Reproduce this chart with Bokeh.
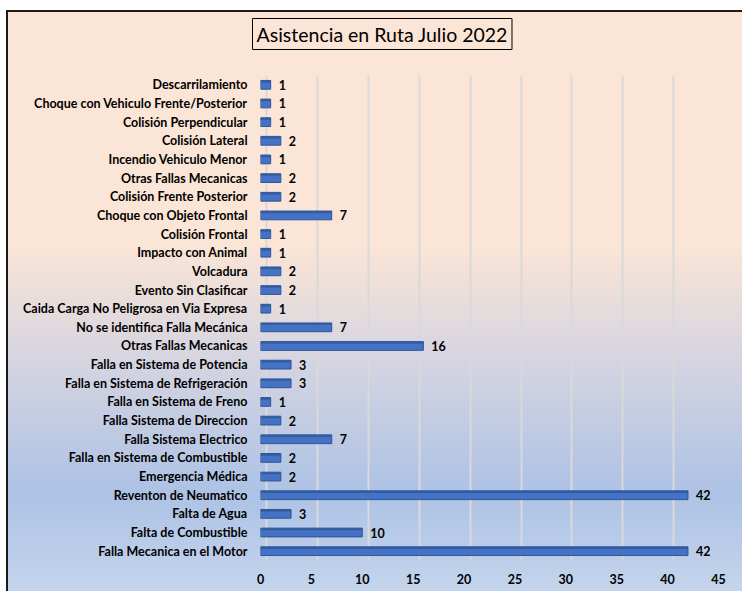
from bokeh.plotting import figure
from bokeh.models import Range1d, FixedTicker, Grid, ColumnDataSource, Title
from bokeh.transform import dodge
from bokeh.core.properties import value
from bokeh.embed import file_html
from bokeh.resources import INLINE

# categories listed bottom -> top
categories = [
    "Falla Mecanica en el Motor",
    "Falta de Combustible",
    "Falta de Agua",
    "Reventon de Neumatico",
    "Emergencia Médica",
    "Falla en Sistema de Combustible",
    "Falla Sistema Electrico",
    "Falla Sistema de Direccion",
    "Falla en Sistema de Freno",
    "Falla en Sistema de Refrigeración",
    "Falla en Sistema de Potencia",
    "Otras Fallas Mecanicas",
    "No se identifica Falla Mecánica",
    "Caida Carga No Peligrosa en Via Expresa",
    "Evento Sin Clasificar",
    "Volcadura",
    "Impacto con Animal",
    "Colisión Frontal",
    "Choque con Objeto Frontal",
    "Colisión Frente Posterior",
    "Otras Fallas Mecanicas",
    "Incendio Vehiculo Menor",
    "Colisión Lateral",
    "Colisión Perpendicular",
    "Choque con Vehiculo Frente/Posterior",
    "Descarrilamiento",
]
counts = [42, 10, 3, 42, 2, 2, 7, 2, 1, 3, 3, 16, 7, 1, 2, 2, 1, 1, 7, 2, 2, 1, 2, 1, 1, 1]
x_ticks = [0, 5, 10, 15, 20, 25, 30, 35, 40, 45]
title_text = "Asistencia en Ruta Julio 2022"

FONT = "Lato"
positions = list(range(len(categories)))
src = ColumnDataSource(dict(y=positions, v=counts, lbl=[str(c) for c in counts]))

p = figure(width=736, height=581, output_backend="svg", toolbar_location=None, title=None,
           x_range=Range1d(0, 45), y_range=Range1d(-0.5, len(categories) - 0.5),
           min_border_left=252, min_border_right=26, min_border_top=63, min_border_bottom=33)

p.styles = {
    "background": "linear-gradient(to bottom, #FBE5D6 0%, #FBE5D6 40%, #D9D6E0 58%, #ADC2E5 83%, #C4D4EC 100%)",
    "border-left": "2px solid #1a1a1a",
    "border-top": "2px solid #1a1a1a",
    "margin-top": "10px",
    "margin-left": "6px",
}
p.border_fill_alpha = 0
p.background_fill_alpha = 0
p.outline_line_color = None

p.xgrid.visible = False
p.ygrid.visible = False
p.extra_x_ranges = {"back": Range1d(-0.6, 44.4)}
g = Grid(dimension=0, ticker=FixedTicker(ticks=x_ticks), x_range_name="back",
         grid_line_color="#D9D9D9", grid_line_width=2)
p.add_layout(g)

p.hbar(y="y", left=0, right="v", height=0.47, source=src,
       fill_color="#4472C4", line_color="#2F5597", line_width=1)
p.hbar(y=dodge("y", 0.17, range=p.y_range), left=0, right="v", height=0.1, source=src,
       fill_color="#2F5597", fill_alpha=0.75, line_color=None)
p.text(x="v", y="y", text="lbl", source=src, x_offset=8, text_baseline="middle",
       text_font=value(FONT), text_font_style="bold", text_font_size="12.5px", text_color="#000000")

p.xaxis.ticker = FixedTicker(ticks=x_ticks)
p.xaxis.axis_line_color = None
p.xaxis.major_tick_line_color = None
p.xaxis.minor_tick_line_color = None
p.xaxis.major_label_standoff = 7
p.xaxis.major_label_text_font = FONT
p.xaxis.major_label_text_font_style = "bold"
p.xaxis.major_label_text_font_size = "12.5px"
p.xaxis.major_label_text_color = "#000000"

p.yaxis.ticker = FixedTicker(ticks=positions)
p.yaxis.major_label_overrides = {i: c for i, c in enumerate(categories)}
p.yaxis.axis_line_color = None
p.yaxis.major_tick_line_color = None
p.yaxis.minor_tick_line_color = None
p.yaxis.major_label_standoff = 7
p.yaxis.major_label_text_font = FONT
p.yaxis.major_label_text_font_style = "bold"
p.yaxis.major_label_text_font_size = "12.5px"
p.yaxis.major_label_text_color = "#000000"

# spacer between frame and title box (text drawn in the background colour)
spacer = Title(text=".", text_font_size="1px", standoff=23, text_color="#FBE5D6")
p.add_layout(spacer, "above")

main_title = Title(text=title_text, align="left", offset=-8, standoff=0,
                   text_font=FONT, text_font_style="normal", text_font_size="19.5px",
                   text_color="#000000", border_line_color="#000000", border_line_width=1,
                   background_fill_color="#FBE5D6", padding=4)
p.add_layout(main_title, "above")

open("out.html", "w").write(file_html(p, INLINE))
